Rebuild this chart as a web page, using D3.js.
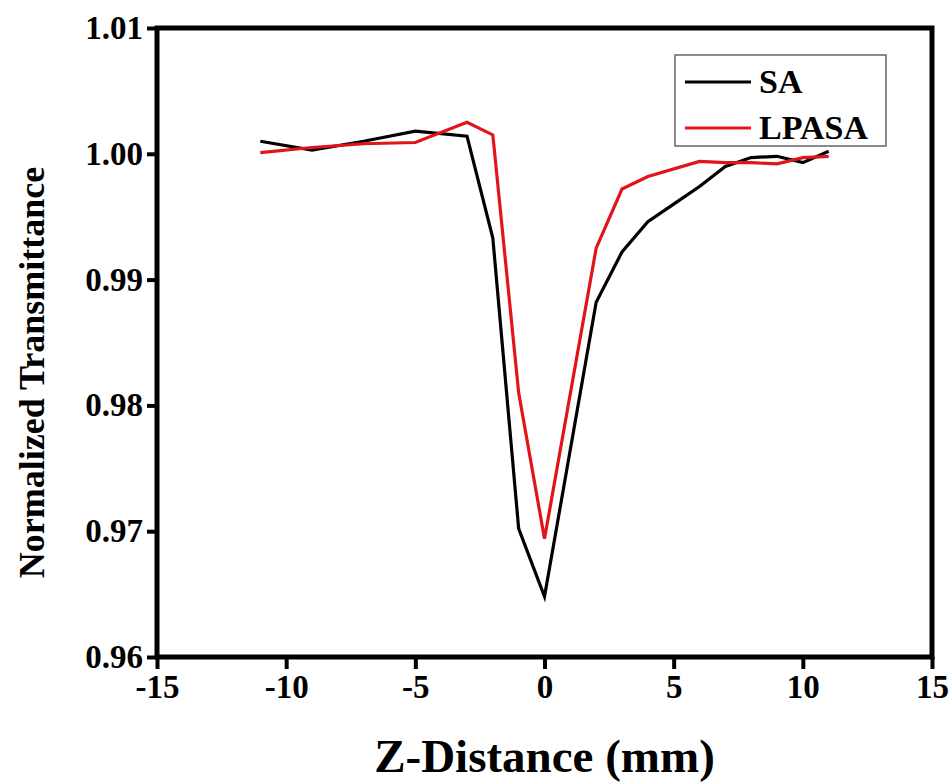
<!DOCTYPE html>
<html>
<head>
<meta charset="utf-8">
<script src="https://cdn.jsdelivr.net/npm/d3@7"></script>
<style>
  body { margin: 0; background: #fff; }
  svg text { font-family: "Liberation Serif", "Times New Roman", serif; font-weight: bold; }
</style>
</head>
<body>
<script>
// data
var zSA = [-11, -9, -7, -5, -3, -2, -1, 0, 2, 3, 4, 5, 6, 7, 8, 9, 10, 11];
var tSA = [1.0010, 1.0003, 1.0010, 1.0018, 1.0014, 0.9933, 0.9702, 0.9648, 0.9882, 0.9922, 0.9946, 0.9960, 0.9974, 0.9990, 0.9997, 0.9998, 0.9993, 1.0002];
var zLPASA = [-11, -9, -7, -5, -3, -2, -1, 0, 2, 3, 4, 6, 7, 8, 9, 10, 11];
var tLPASA = [1.0001, 1.0005, 1.0008, 1.0009, 1.0025, 1.0015, 0.9810, 0.9694, 0.9925, 0.9972, 0.9982, 0.9994, 0.9993, 0.9993, 0.9992, 0.9997, 0.9998];
var xTicks = [-15, -10, -5, 0, 5, 10, 15];
var yTicks = [0.96, 0.97, 0.98, 0.99, 1.00, 1.01];
var seriesNames = ["SA", "LPASA"];
var seriesColors = ["#000000", "#e0141b"];

function main() {
    var width = 952, height = 783;
    var margin = {left: 157, right: 20, top: 28, bottom: 126};

    var svg = d3.select("body").append("svg")
        .attr("width", width)
        .attr("height", height);

    var x = d3.scaleLinear().domain([-15, 15]).range([margin.left, width - margin.right]);
    var y = d3.scaleLinear().domain([0.96, 1.01]).range([height - margin.bottom, margin.top]);

    // series
    var series = [
        zSA.map(function (z, i) { return [z, tSA[i]]; }),
        zLPASA.map(function (z, i) { return [z, tLPASA[i]]; })
    ];
    var line = d3.line().x(function (d) { return x(d[0]); }).y(function (d) { return y(d[1]); });

    series.forEach(function (s, i) {
        svg.append("path")
            .datum(s)
            .attr("fill", "none")
            .attr("stroke", seriesColors[i])
            .attr("stroke-width", 3.2)
            .attr("stroke-linejoin", "miter")
            .attr("d", line);
    });

    // axes
    var xAxis = svg.append("g")
        .attr("transform", "translate(0," + y.range()[0] + ")")
        .call(d3.axisBottom(x).tickValues(xTicks).tickSize(12).tickPadding(6).tickFormat(d3.format("d")));
    var yAxis = svg.append("g")
        .attr("transform", "translate(" + x.range()[0] + ",0)")
        .call(d3.axisLeft(y).tickValues(yTicks).tickSize(10).tickPadding(4).tickFormat(d3.format(".2f")));

    [xAxis, yAxis].forEach(function (g) {
        g.select(".domain").remove();
        g.selectAll(".tick line").attr("stroke", "#000").attr("stroke-width", 4);
        g.selectAll(".tick text").attr("fill", "#000").attr("font-size", 33)
            .attr("font-family", "Liberation Serif, serif").attr("font-weight", "bold");
    });
    xAxis.selectAll(".tick text").text(function (d) { return d < 0 ? "-" + Math.abs(d) : d; });

    // frame
    svg.append("rect")
        .attr("x", x.range()[0]).attr("y", y.range()[1])
        .attr("width", x.range()[1] - x.range()[0])
        .attr("height", y.range()[0] - y.range()[1])
        .attr("fill", "none").attr("stroke", "#000").attr("stroke-width", 5);

    // axis titles
    svg.append("text")
        .attr("x", (x.range()[0] + x.range()[1]) / 2)
        .attr("y", 772)
        .attr("text-anchor", "middle")
        .attr("font-size", 47)
        .text("Z-Distance (mm)");

    var yMid = (y.range()[0] + y.range()[1]) / 2 + 30;
    svg.append("text")
        .attr("transform", "translate(44," + yMid + ") rotate(-90)")
        .attr("text-anchor", "middle")
        .attr("font-size", 36)
        .text("Normalized Transmittance");

    // legend
    var lg = svg.append("g").attr("transform", "translate(675,55)");
    lg.append("rect").attr("width", 211).attr("height", 91)
        .attr("fill", "#fff").attr("stroke", "#666").attr("stroke-width", 1.5);
    seriesNames.forEach(function (name, i) {
        var yy = 27 + i * 46;
        lg.append("line").attr("x1", 10).attr("x2", 76).attr("y1", yy).attr("y2", yy)
            .attr("stroke", seriesColors[i]).attr("stroke-width", 3);
        lg.append("text").attr("x", 84).attr("y", yy + 11)
            .attr("font-size", 34).text(name);
    });
}

window.onload = main;
</script>
</body>
</html>
